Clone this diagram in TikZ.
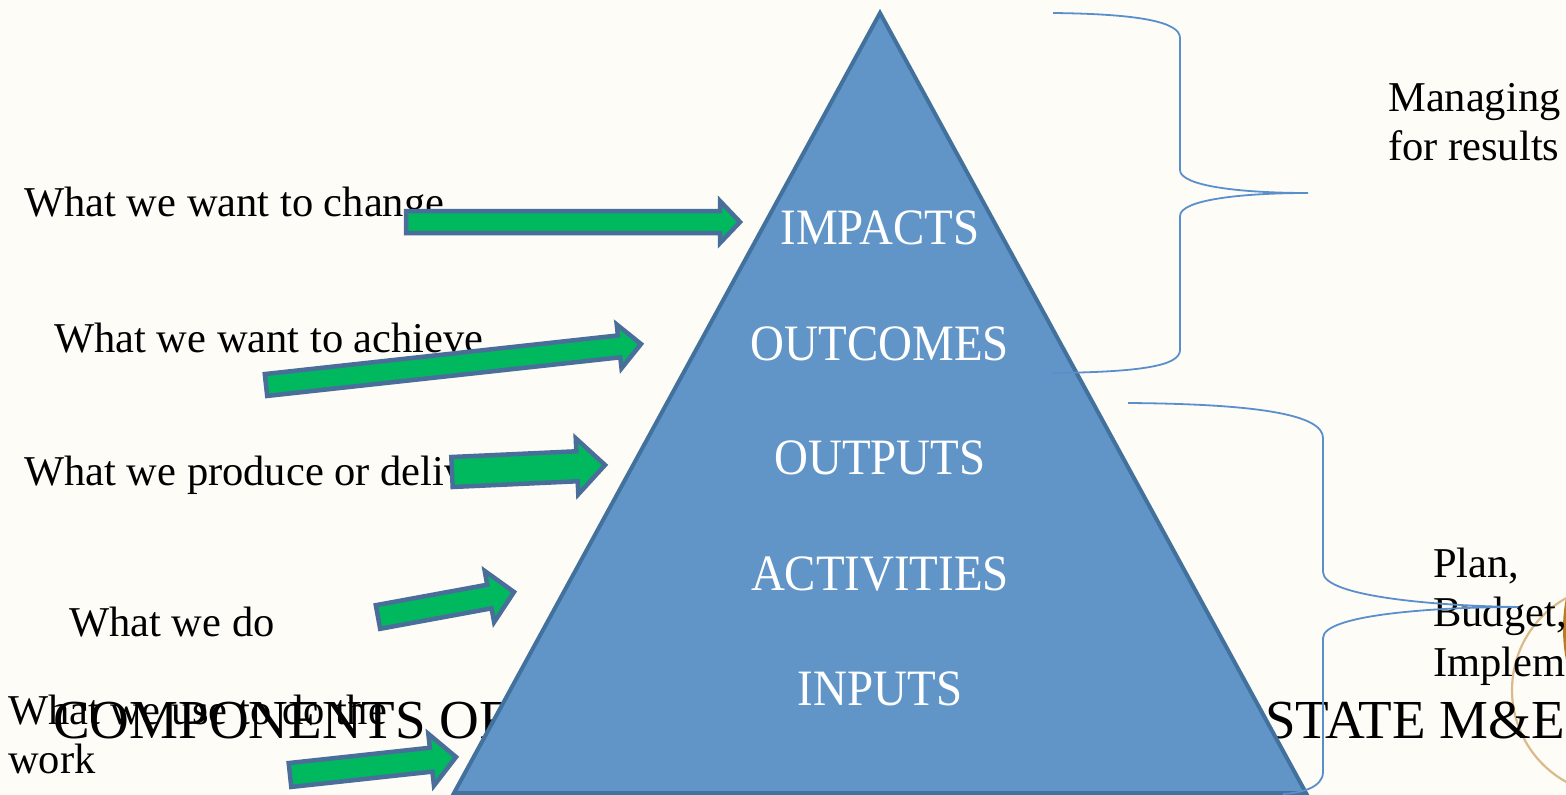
\documentclass[tikz,border=0pt]{standalone}
\usepackage{fontspec}
\setmainfont{Liberation Serif}
\newfontfamily\condfont[FakeStretch=0.92]{Liberation Serif}
\usetikzlibrary{calc}
\definecolor{bg}{HTML}{FDFCF7}
\definecolor{trifill}{HTML}{6195C8}
\definecolor{triline}{HTML}{41719C}
\definecolor{braceblue}{HTML}{5B8FCB}
\definecolor{arrgreen}{HTML}{00B95F}
\definecolor{arrline}{HTML}{4A6E9A}
\definecolor{ringtan}{HTML}{D9BB8B}
\definecolor{goldfill}{HTML}{B97C22}
\tikzset{
  lbl/.style={font=\fontsize{42.5}{48}\selectfont, inner sep=0pt, anchor=base west, text=black},
  ttl/.style={font=\fontsize{55}{60}\selectfont, inner sep=0pt, anchor=base west, text=black},
  tlabel/.style={font=\condfont\fontsize{51}{56}\selectfont, inner sep=0pt, anchor=base, text=white},
  tri/.style={fill=trifill, draw=triline, line width=4pt},
  brace/.style={draw=braceblue, line width=1.8pt},
  blockarrow/.style={fill=arrgreen, draw=arrline, line width=4.5pt, line join=miter},
}
\newcommand{\blockarr}[5]{%
  \coordinate (#1-h) at ($(#2)!#5!(#1)$);
  \draw[blockarrow] ($(#1)!#3!90:(#2)$) -- ($(#1-h)!#3!90:(#2)$) -- ($(#1-h)!#4!90:(#2)$) -- (#2) -- ($(#1-h)!#4!-90:(#2)$) -- ($(#1-h)!#3!-90:(#2)$) -- ($(#1)!#3!-90:(#2)$) -- cycle;
}
\begin{document}
\begin{tikzpicture}[x=1pt,y=-1pt]
\clip (0,0) rectangle (1566,795);
\fill[bg] (0,0) rectangle (1566,795);
% decorative circles at right edge
\fill[goldfill] (1725,629) circle (162);
\draw[ringtan, line width=2.2pt] (1617,690) circle (105);
% title (behind the pyramid)
\node[ttl] (title1) at (53,738) {COMPONENTS OF};
\node[ttl] (title2) at (1265,738) {STATE M\&E};
% left labels
\node[lbl] (l1) at (24,216) {What we want to change};
\node[lbl] (l2) at (54,352) {What we want to achieve};
\node[lbl] (l3) at (24,485) {What we produce or deliv};
\node[lbl] (l4) at (69,636) {What we do};
\node[lbl] (l5a) at (8,724) {What we use to do the};
\node[lbl] (l5b) at (8,773) {work};
% right labels
\node[lbl] (r1a) at (1388,111) {Managing};
\node[lbl] (r1b) at (1388,160) {for results};
\node[lbl] (r2a) at (1433,577) {Plan,};
\node[lbl] (r2b) at (1433,626) {Budget,};
\node[lbl] (r2c) at (1433,676) {Implem};
% pyramid
\coordinate (apex) at (880,13);
\coordinate (bl) at (454,793);
\coordinate (br) at (1306,793);
\filldraw[tri] (apex) -- (bl) -- (br) -- cycle;
\node[tlabel] (impacts) at (880,244) {IMPACTS};
\node[tlabel] (outcomes) at (880,360) {OUTCOMES};
\node[tlabel] (outputs) at (880,474) {OUTPUTS};
\node[tlabel] (activities) at (880,590) {ACTIVITIES};
\node[tlabel] (inputs) at (880,705) {INPUTS};
% braces
\coordinate (b1top) at (1053,13);
\coordinate (b1tip) at (1308,193);
\coordinate (b1bot) at (1053,373);
\draw[brace] (b1top) .. controls (1140,14) and (1180,22) .. (1180,38) -- (1180,170)
  .. controls (1180,186) and (1240,193) .. (b1tip)
  .. controls (1240,193) and (1180,200) .. (1180,216) -- (1180,350)
  .. controls (1180,366) and (1140,372) .. (b1bot);
\coordinate (b2top) at (1128,403);
\coordinate (b2tip) at (1518,607);
\coordinate (b2bot) at (1283,794);
\draw[brace] (b2top) .. controls (1260,404) and (1323,415) .. (1323,438) -- (1323,572)
  .. controls (1323,597) and (1440,606) .. (b2tip)
  .. controls (1440,607) and (1323,614) .. (1323,638) -- (1323,772)
  .. controls (1323,788) and (1300,793) .. (b2bot);
% block arrows
\coordinate (a1t) at (406,222); \coordinate (a1e) at (740,222);
\coordinate (a2t) at (266,385); \coordinate (a2e) at (641,344);
\coordinate (a3t) at (452,472); \coordinate (a3e) at (605,465);
\coordinate (a4t) at (378,617); \coordinate (a4e) at (514,592);
\coordinate (a5t) at (290,775); \coordinate (a5e) at (456,757);
\blockarr{a1t}{a1e}{11pt}{21pt}{20pt}
\blockarr{a2t}{a2e}{11pt}{22pt}{22pt}
\blockarr{a3t}{a3e}{15pt}{28pt}{28pt}
\blockarr{a4t}{a4e}{12pt}{26pt}{25pt}
\blockarr{a5t}{a5e}{12pt}{26pt}{25pt}
\end{tikzpicture}
\end{document}
